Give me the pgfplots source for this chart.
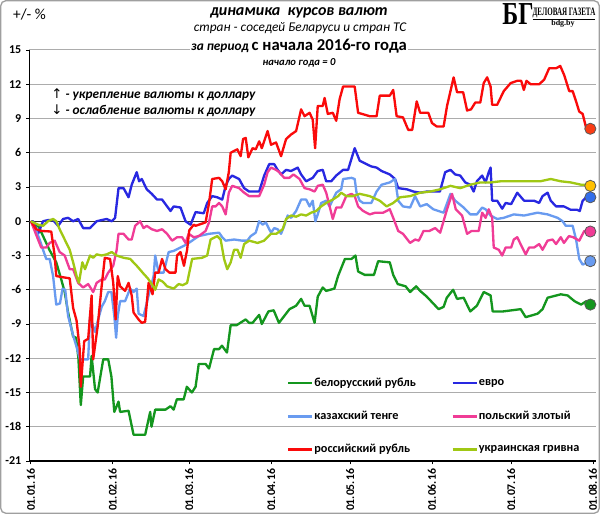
\documentclass[border=0pt]{standalone}
\usepackage{fontspec}
\setmainfont{Carlito}
\newfontfamily\dejavu{DejaVu Sans}
\newfontfamily\libserif{Liberation Serif}
\usepackage{graphicx}
\usepackage{pgfplots}
\pgfplotsset{compat=1.18}
\definecolor{cbyr}{RGB}{20,150,30}
\definecolor{ceur}{RGB}{40,40,225}
\definecolor{ckzt}{RGB}{105,155,240}
\definecolor{cpln}{RGB}{240,60,150}
\definecolor{crub}{RGB}{250,10,10}
\definecolor{cuah}{RGB}{160,200,20}
\definecolor{mrub}{RGB}{250,60,20}
\definecolor{muah}{RGB}{255,192,0}
\definecolor{meur}{RGB}{50,110,235}
\definecolor{mbyr}{RGB}{20,150,30}
\begin{document}
\begin{tikzpicture}
\path[use as bounding box] (0pt,0pt) rectangle (450pt,385.5pt);
\begin{axis}[at={(22pt,39.75pt)}, anchor=south west, scale only axis,
  width=424.7pt, height=308.25pt,
  xmin=-0.6, xmax=214, ymin=-21, ymax=15,
  clip=false,
  axis x line*=bottom, axis y line*=left,
  axis line style={black, line width=0.8pt},
  ymajorgrids, grid style={gray!65, line width=0.75pt},
  ytick={-21,-18,-15,-12,-9,-6,-3,0,3,6,9,12,15},
  yticklabels={-21,-18,-15,-12,-9,-6,-3,0,3,6,9,12,15},
  xtick={0,31,60,91,121,152,182,213},
  xticklabels={01.01.16,01.02.16,01.03.16,01.04.16,01.05.16,01.06.16,01.07.16,01.08.16},
  tick align=outside, major tick length=2.5pt, tick style={black, line width=0.7pt},
  x tick label style={rotate=90, anchor=east, font=\bfseries\fontsize{8.8}{10}\selectfont},
  y tick label style={font=\bfseries\fontsize{9}{10}\selectfont},
  legend style={draw=none, fill=none, at={(0.4545,0.209)}, anchor=north west,
    font=\bfseries\fontsize{9.2}{11}\selectfont, row sep=13pt, inner sep=0pt,
    nodes={inner xsep=0.8pt}},
  legend columns=2, legend cell align=left,
  legend image code/.code={\draw[#1] (0pt,0pt) -- (18pt,0pt);},
  every axis plot/.append style={line width=1.75pt, line join=round},
]
\draw[black!80, line width=0.8pt] (axis cs:-0.6,0) -- (axis cs:214,0);
% Belarusian ruble
\addplot[cbyr] coordinates {
(0,0) (3,-0.5) (5,-1.5) (7,-2.5) (9.6,-3.6) (11.5,-5.1) (12.8,-6.2) (14.1,-8.0)
(16,-10.1) (17.1,-10.2) (18,-12) (18.9,-16.1) (19.8,-13.6) (22.4,-13.6) (23,-11.8)
(24.3,-14.7) (25.3,-15.0) (27.4,-12.1) (29.3,-12.1) (30.5,-13.6) (31.6,-16.7)
(33.2,-15.8) (33.8,-16.7) (37,-16.6) (38.9,-18.7) (43.3,-18.7) (45.2,-16.7)
(45.7,-18.0) (47.1,-16.5) (51,-16.5) (52.9,-16.2) (54.1,-16.5) (55.3,-15.6)
(57.9,-15.6) (59.1,-14.5) (61,-15.0) (62.4,-14.5) (63.6,-12.5) (66.2,-12.5)
(67.5,-12.9) (69.4,-11.2) (71.3,-11.2) (72.4,-10.9) (74.3,-11.5) (75.7,-9.1)
(78,-9.1) (80,-8.8) (81.4,-8.6) (82.7,-8.9) (84,-8.9) (86.5,-8.2) (87.5,-9.0)
(90,-7.9) (92,-7.8) (94,-8.9) (98,-7.7) (100.5,-7.4) (102.4,-6.8) (103.7,-7.4)
(105.6,-7.4) (107.5,-8.9) (108.7,-6.6) (110.6,-5.8) (111.9,-6.1) (115,-5.9)
(116.4,-4.8) (119,-3.3) (121.5,-3.3) (123,-3.0) (124,-4.4) (126.5,-4.7) (130,-4.7)
(131.6,-3.5) (136,-3.6) (137.3,-4.7) (139,-5.5) (142,-5.7) (143.7,-6.2) (146,-5.7)
(147.5,-6.1) (150,-6.6) (154.5,-7.7) (156.4,-7.5) (157.6,-6.7) (160,-6.0)
(161.5,-6.8) (164,-6.7) (166.5,-7.9) (169,-7.4) (171.6,-6.2) (174.2,-6.5)
(175,-7.9) (178.9,-7.9) (185.6,-7.7) (187.5,-8.4) (192,-8.1) (193.9,-7.7)
(195.8,-6.7) (200.8,-6.4) (203.4,-6.5) (206,-7.0) (208.5,-7.3) (210.5,-7.0) (212,-7.4)
};
% Euro
\addplot[ceur] coordinates {
(0,0) (0.8,0) (2.7,-1.1) (4.6,0) (6.5,0.1) (8.4,0.1) (10.3,-0.4) (12.2,0.2)
(14.1,0.3) (16,0) (17.9,0.2) (19.8,-0.6) (22.4,-0.6) (24.9,0) (28.7,0.2) (30.6,0)
(31.9,0.3) (33.2,2.9) (35.1,2.9) (37,2.1) (38.2,3.2) (40.1,4.3) (41,3.5) (42,3.7)
(43.9,2.8) (45.8,2.4) (47.8,1.9) (49.7,1.9) (52.9,0.9) (54.1,1.3) (56.7,1.2)
(58.6,0) (60.5,-0.3) (62.4,0.8) (65.5,0.7) (66.8,1.6) (68.7,2.2) (70.6,2.1)
(72.5,1.9) (73.8,3.1) (75,3.7) (76.3,4.0) (78.9,3.7) (80.8,2.9) (82.7,2.6)
(86.5,2.6) (88.4,4.0) (90.3,5.0) (92.2,5.0) (93.5,4.5) (94.8,4.1) (96.7,4.5)
(98.6,4.4) (101.1,4.7) (102.4,4.1) (104.3,3.5) (106.8,3.8) (108.7,4.4) (110.6,4.5)
(111.9,3.5) (113.8,3.5) (115.7,4.0) (118.3,4.5) (120.2,4.5) (122.7,6.4) (124.6,5.3)
(127.2,5.0) (129,4.8) (131,4.7) (132.9,4.4) (136,4.1) (138,3.7) (139.2,2.9)
(142.4,2.8) (145,2.6) (147.5,2.5) (150,2.6) (152.5,2.6) (155,2.6) (157,4.3)
(159,4.5) (160.8,4.1) (162.7,4.0) (164.6,3.4) (166.5,3.2) (167.8,2.6) (169,3.5)
(171,4.0) (172.3,3.4) (173.5,4.3) (174.2,4.7) (174.8,1.8) (176.7,1.8) (178.6,1.1)
(179.9,1.6) (182,1.5) (184.3,2.5) (186.9,1.8) (190.7,1.8) (192.6,1.6) (193.9,2.2)
(195.8,2.5) (197,1.8) (199,1.3) (202,1.3) (204.6,1.0) (207,1.0) (208,0.9)
(209.1,1.8) (211,2.2) (212,2.1)
};
% Kazakh tenge
\addplot[ckzt] coordinates {
(0,0) (2,-0.85) (3.3,-1.6) (4.6,-2.5) (5.8,-3.3) (7.1,-3.3) (8.4,-4.8) (9.6,-7.3)
(11,-7.2) (12,-5.9) (13,-6.0) (14.1,-8.3) (16,-10.0) (17.3,-11.0) (18.6,-12.1)
(21.7,-12.1) (22.4,-8.3) (24.3,-9.7) (25.5,-8.6) (26.8,-7.5) (28,-7.0) (29.3,-6.2)
(30.5,-6.2) (31.6,-8.3) (32.3,-10.2) (32.9,-8.3) (33.8,-7.0) (35.7,-7.0) (37.6,-5.9)
(38.9,-6.2) (40.1,-5.9) (40.8,-8.1) (42.7,-8.3) (44.6,-6.5) (46.5,-4.8) (47.1,-3.0)
(48.4,-4.5) (50.3,-4.5) (52.2,-2.7) (54.1,-2.6) (56.7,-2.3) (59.2,-2.0) (61.7,-1.6)
(63.6,-1.3) (67.5,-1.1) (71.3,-1.0) (72.5,-1.4) (73.8,-1.7) (77,-1.6) (80.1,-1.7)
(82,-1.7) (83.3,-1.3) (85.2,-1.0) (86.5,0) (87.8,-0.3) (89,-0.1) (91,-1.0)
(92.2,-0.6) (93.5,-0.7) (94.8,-1.1) (96,-0.4) (97.3,0.5) (98.6,0.3) (100.5,0.9)
(102.4,1.9) (104.3,1.9) (105.6,1.3) (106.8,1.8) (107.8,0) (108.7,0.6) (110,1.6)
(111.9,1.8) (113.2,1.3) (114.4,1.9) (115.7,2.5) (117.6,2.8) (118.3,3.7) (121.5,3.8)
(122.7,3.7) (123.4,2.5) (124.6,1.8) (125.9,1.6) (129,1.6) (131,2.6) (132.9,3.2)
(136,3.4) (138,3.7) (139.2,1.8) (141,1.3) (143.7,1.2) (145.6,2.2) (147.5,1.3)
(150,1.5) (152.5,1.05) (156.4,0.75) (159,2.4) (160.8,1.8) (164,1.2) (166.5,0.6)
(169,0.6) (171,1.2) (172.3,1.05) (174.2,0.5) (176.7,0.2) (179.2,0.3) (183,0.6)
(186.9,0.5) (192,0.75) (195.8,0.6) (199.6,0.3) (201.5,0) (202.7,-0.4) (205.3,-0.4)
(206.6,-1.6) (207.8,-3.3) (209.1,-3.8) (211,-3.6) (212,-3.5)
};
% Polish zloty
\addplot[cpln] coordinates {
(0,0) (2.7,-1.6) (3.9,-2.3) (5.8,-2.3) (7.1,-1.9) (9,-1.7) (10.9,-2.7) (12.8,-3.0)
(14.7,-4.2) (16,-4.2) (17.9,-5.4) (19.8,-5.8) (21.7,-5.5) (23.6,-6.2) (24.9,-5.4)
(26.8,-5.1) (28,-5.1) (29.3,-4.5) (31.2,-3.9) (32.5,-2.5) (33.2,-1.1) (35.1,-1.1)
(37,-1.6) (38.2,-1.6) (39.5,-0.4) (41.4,0) (42.7,-0.6) (43.9,-0.4) (45.8,-0.7)
(47.8,-0.85) (49.7,-0.7) (51.6,-1.1) (53.5,-1.7) (55.4,-1.4) (57.3,-1.4) (58.6,-1.9)
(59.8,-1.1) (61.7,-1.4) (63.6,-1.3) (66.2,-0.85) (67.5,-0.1) (68.7,1.3) (70,1.3)
(71.3,1.6) (72.5,1.3) (73.8,0.6) (75,2.5) (76.3,3.1) (78.9,2.9) (80.8,2.5) (82.7,2.2)
(86.5,2.2) (88.4,3.2) (89.7,4.3) (91,4.7) (92.9,4.5) (94.1,4.3) (96,3.8) (97.9,3.8)
(99.5,4.1) (101.8,3.7) (103.7,2.9) (105.6,2.8) (107.5,2.6) (108.7,3.1) (110.6,3.2)
(111.9,2.5) (113.2,1.3) (114.4,0.2) (115.7,1.2) (117.6,1.2) (119.5,2.2) (121.5,2.4)
(122.7,2.2) (124,1.3) (125.9,0.9) (128.4,0.6) (130.5,0.75) (133.5,0.75) (136,1.05)
(137.3,0.3) (139.2,-0.85) (141,-1.1) (143.7,-1.9) (145.6,-1.6) (147,-1.7) (148.8,-0.85)
(151,-0.85) (153.2,-0.6) (155.1,-1.0) (157.7,1.05) (159.6,2.4) (161,1.05) (163.4,0.5)
(165.3,-1.1) (167,-0.85) (169.7,-0.85) (171,0.75) (172.3,0.3) (173.5,1.05) (174.8,0.3)
(175.4,-2.3) (177.3,-2.5) (178.6,-3.0) (179.9,-2.3) (182,-2.3) (183,-1.6) (184.3,-1.4)
(186.2,-2.3) (187.5,-2.9) (188.8,-2.3) (190.7,-2.3) (192.6,-2.0) (193.9,-2.5)
(195.8,-1.7) (197.7,-1.6) (199,-2.0) (200.8,-1.4) (202,-1.9) (203.9,-1.3) (205.5,-1.4)
(207.8,-1.7) (209.7,-0.85) (212,-0.9)
};
% Russian ruble
\addplot[crub] coordinates {
(0,0) (2,-0.7) (4,-0.85) (7.7,-0.9) (9,-3.0) (9.6,-4.8) (12,-4.9) (14.7,-5.0)
(16,-7.6) (17.3,-8.7) (18.5,-11.2) (18.9,-14.5) (20.2,-10.5) (21.7,-10.3) (23,-6.5)
(23.6,-12.1) (25.3,-9.2) (26.8,-5.7) (28,-3.2) (30,-3.3) (31.2,-5.4) (32.1,-8.6)
(32.9,-4.8) (33.8,-5.7) (35.7,-6.1) (37,-5.4) (38.2,-6.5) (38.9,-8.0) (40.8,-8.6)
(42,-8.9) (43.3,-8.8) (44.6,-5.4) (46.1,-6.4) (47.1,-4.5) (48.4,-4.5) (49.7,-3.3)
(51,-4.2) (52.5,-4.5) (54.8,-4.5) (55.4,-3.0) (56.7,-2.7) (58,-3.9) (59.2,-2.5)
(60,-0.8) (61.7,-0.3) (62.4,-0.4) (66.2,-0.1) (67.5,1.6) (68.7,3.7) (71.3,3.8)
(72.5,3.5) (73.8,2.8) (75,4.3) (75.7,6.0) (78.2,6.3) (79.5,5.7) (80.4,7.2) (81.4,7.3)
(82.4,5.6) (84,6.4) (85.2,6.3) (86.5,7.0) (87.5,6.4) (89.7,7.9) (91,6.7) (92.9,6.9)
(94.8,5.7) (96.7,7.2) (98.6,7.6) (100.5,7.9) (102.4,9.8) (103.7,9.2) (105.6,9.5)
(106.8,8.9) (107.7,6.4) (108.7,10.1) (110.6,10.1) (111.3,10.8) (112.5,9.4) (114.4,9.5)
(115.7,8.8) (117,10.7) (118.3,11.8) (122.7,11.8) (124,9.5) (125.5,9.4) (128.4,9.2)
(131,9.2) (132.2,11.0) (136,11.0) (137.3,11.5) (138.6,9.2) (141,9.1) (143,8.0)
(144.5,8.0) (146.2,10.5) (147.5,9.5) (150.6,9.5) (152,8.6) (153.8,8.3) (156.4,8.3)
(157.7,10.1) (160.2,12.6) (161.5,11.3) (163.8,11.3) (165.3,9.7) (166.8,9.8)
(168.4,10.4) (170.3,10.4) (171.6,12.1) (172.9,12.6) (174.2,11.8) (174.8,10.2)
(176.7,10.2) (179.2,11.4) (181.8,12.1) (184.3,12.3) (185.8,12.3) (186.8,11.5)
(187.8,12.3) (189.4,12.0) (192.6,12.0) (194.5,12.4) (196.4,13.4) (199,13.4)
(200.6,13.6) (202.1,12.8) (204,11.4) (205.3,11.4) (206.6,10.5) (207.8,9.6)
(209.1,9.4) (210.4,8.2) (212,8.1)
};
% Ukrainian hryvnia
\addplot[cuah] coordinates {
(0,0) (2.7,-0.3) (4.6,-0.4) (6.5,0) (8.4,0.2) (9.6,0) (10.9,-0.7) (12.8,-1.6)
(14.7,-2.5) (16,-3.6) (17.3,-4.8) (18.2,-5.4) (19.5,-3.6) (20.5,-4.2) (22.4,-3.0)
(23.6,-3.2) (24.9,-2.9) (26.8,-3.0) (28.7,-2.9) (30.6,-2.7) (32.5,-3.0) (35.1,-3.2)
(37.6,-3.3) (40.1,-3.9) (42.7,-4.6) (44.3,-5.0) (45.8,-5.5) (47.1,-6.0) (48.4,-5.1)
(50,-5.3) (51.6,-5.7) (54.1,-5.9) (56,-5.5) (57.5,-5.6) (59.2,-5.4) (61.1,-3.3)
(64.9,-3.2) (66.8,-3.0) (68.1,-1.6) (70.6,-1.3) (71.9,-1.6) (73.2,-3.3) (74.4,-4.2)
(75.7,-3.6) (77,-2.5) (78.3,-2.5) (79.5,-3.2) (80.8,-2.0) (82.7,-1.7) (85.9,-1.9)
(88.4,-1.7) (91,-1.1) (93,-1.1) (95.4,-0.7) (96.7,0.2) (98.6,0.5) (100.5,0.4)
(102.4,0.6) (104.3,0.5) (106.2,0.75) (108.1,0.9) (110,1.3) (111.9,1.6) (114.4,1.9)
(116.4,2.2) (117.6,2.5) (119.5,2.2) (122.1,2.2) (124.6,2.4) (128.4,2.2) (132.2,1.8)
(134.8,1.3) (137.3,1.6) (139.9,2.1) (143.7,2.2) (147.5,2.5) (151.3,2.6) (155.1,2.8)
(159,3.1) (162.7,2.9) (166.5,3.2) (170.3,3.4) (174.2,3.4) (178,3.5) (183,3.5)
(188,3.5) (193,3.5) (197,3.7) (200.8,3.5) (204.6,3.4) (208.5,3.2) (212,3.2)
};
\legend{\makebox[102pt][l]{белорусский рубль}, евро, \makebox[102pt][l]{казахский тенге}, польский злотый, \makebox[102pt][l]{российский рубль}, украинская гривна}
% end markers
\addplot[forget plot, only marks, mark=*, mark size=4.2pt, mark options={fill=mrub, draw=black!65, line width=0.6pt}] coordinates {(212,8.1)};
\addplot[forget plot, only marks, mark=*, mark size=4.2pt, mark options={fill=muah, draw=black!65, line width=0.6pt}] coordinates {(212,3.1)};
\addplot[forget plot, only marks, mark=*, mark size=4.2pt, mark options={fill=meur, draw=black!65, line width=0.6pt}] coordinates {(212,2.1)};
\addplot[forget plot, only marks, mark=*, mark size=4.2pt, mark options={fill=cpln, draw=black!65, line width=0.6pt}] coordinates {(212,-0.9)};
\addplot[forget plot, only marks, mark=*, mark size=4.2pt, mark options={fill=ckzt, draw=black!65, line width=0.6pt}] coordinates {(212,-3.5)};
\addplot[forget plot, only marks, mark=*, mark size=4.2pt, mark options={fill=mbyr, draw=black!65, line width=0.6pt}] coordinates {(212,-7.3)};
\end{axis}
\node[font=\fontsize{11.5}{13}\selectfont] at (22.1pt,374.25pt) {+/- \%};
\node[font=\bfseries\itshape\fontsize{12}{14}\selectfont] at (224.25pt,375.5pt) {динамика\ \ курсов валют};
\node[font=\itshape\fontsize{10}{12}\selectfont] at (225pt,364.3pt) {стран - соседей Беларуси и стран ТС};
\node[fill=white, inner xsep=1pt, inner ysep=0.5pt] at (224.25pt,351pt) {{\bfseries\itshape\fontsize{10}{12}\selectfont за период} {\bfseries\fontsize{12.5}{14}\selectfont с начала 2016-го года}};
\node[font=\bfseries\itshape\fontsize{8}{10}\selectfont] at (224.25pt,338pt) {начало года = 0};
\node[anchor=west, font=\bfseries\itshape\fontsize{10}{12}\selectfont] at (35pt,314.25pt) {{\dejavu\upshape\mdseries ↑} - укрепление валюты к доллару};
\node[anchor=west, font=\bfseries\itshape\fontsize{10}{12}\selectfont] at (35pt,302.6pt) {{\dejavu\upshape\mdseries ↓} - ослабление валюты к доллару};
\node[font=\libserif\bfseries\fontsize{24}{24}\selectfont, inner sep=0pt] at (388.5pt,375pt) {\scalebox{0.75}[1]{БГ}};
\node[font=\libserif\bfseries\fontsize{8.5}{9}\selectfont, inner sep=0pt] at (423pt,375pt) {\scalebox{0.62}[1]{\underline{ДЕЛОВАЯ ГАЗЕТА}}};
\node[font=\libserif\bfseries\fontsize{6}{7}\selectfont, inner sep=0pt] at (422.25pt,367.5pt) {bdg.by};
\draw[gray!75, line width=1pt, rounded corners=4pt] (0.5pt,0.5pt) rectangle (449.5pt,385pt);
\end{tikzpicture}
\end{document}
